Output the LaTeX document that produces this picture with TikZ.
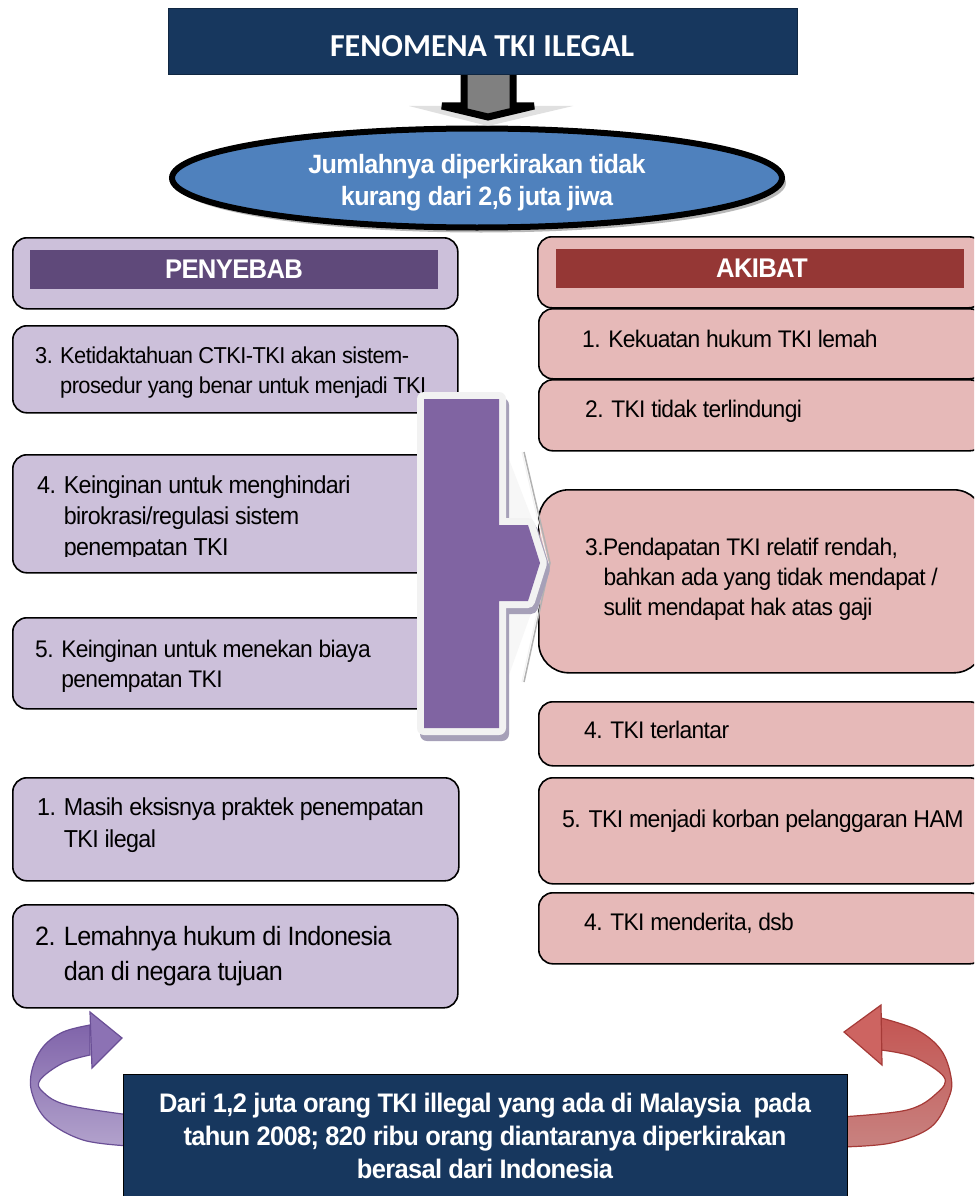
\documentclass[tikz,border=0pt]{standalone}
\usepackage{fontspec}
\setmainfont{Liberation Sans}
\newfontfamily\bodyfont[FakeStretch=0.95,LetterSpace=-2.5]{Liberation Sans}
\newfontfamily\titlefont{Carlito}
\usetikzlibrary{shapes.geometric,shadows}
\definecolor{navy}{HTML}{17375E}
\definecolor{eblue}{HTML}{4F81BD}
\definecolor{lpurple}{HTML}{CCC0DA}
\definecolor{dpurple}{HTML}{5F497A}
\definecolor{apurple}{HTML}{8064A2}
\definecolor{lpink}{HTML}{E6B9B8}
\definecolor{dred}{HTML}{953735}
\definecolor{arrowgray}{HTML}{808080}
\definecolor{bordergray}{HTML}{F2F2F2}
\newcommand\mlines[2]{\vtop{\baselineskip=#1\lineskiplimit=-100pt\relax #2}}
\newcommand\cl[1]{\hbox to 0pt{\hss#1\hss}}
\tikzset{
  boxbase/.style={draw=black, line width=1.6pt, anchor=north west, inner sep=0pt, rounded corners=14pt},
  lbox/.style={boxbase, fill=lpurple},
  rbox/.style={boxbase, fill=lpink},
  hbar/.style={anchor=north west, inner sep=0pt, minimum width=408pt, minimum height=39pt},
  txt/.style={anchor=base west, inner sep=0pt, text=black},
  ctxt/.style={anchor=base, inner sep=0pt, text=white},
  hdtext/.style={ctxt, font=\bodyfont\bfseries\fontsize{27}{30}\selectfont},
}
\begin{document}
\begin{tikzpicture}[x=1pt,y=-1pt]
\useasboundingbox (0,0) rectangle (974,1196);
\clip (0,0) rectangle (974,1196);
\fill[white] (0,0) rectangle (974,1196);

% ellipse
\node[ellipse, draw=black, line width=6pt, fill=eblue, minimum width=610pt, minimum height=99pt,
  drop shadow={shadow xshift=4pt, shadow yshift=-5pt, fill=black!55, opacity=0.5}] (ell) at (477,178) {};
\node[ctxt, font=\bodyfont\bfseries\fontsize{26.5}{32}\selectfont] (elltext) at (477,173)
  {\mlines{32pt}{\cl{Jumlahnya diperkirakan tidak}\cl{kurang dari 2,6 juta jiwa}}};

% down arrow
\fill[black!20, opacity=0.6] (409,106) -- (573,106) -- (488,126) -- cycle;
\draw[line width=7pt, miter limit=2, fill=arrowgray] (464,60) -- (513,60) -- (513,106) -- (534,106) -- (488,117) -- (442,106) -- (464,106) -- cycle;

% title
\node[draw=navy!70!black, fill=navy, line width=1pt, minimum width=629pt, minimum height=66pt, anchor=north west, inner sep=0pt] (title) at (168,8) {};
\node[ctxt, font=\titlefont\bfseries\fontsize{32}{38}\selectfont] (titletext) at (482,57) {FENOMENA TKI ILEGAL};

% headers
\node[lbox, minimum width=445pt, minimum height=71pt] (phead) at (12,237) {};
\node[hbar, fill=dpurple] (pbar) at (30,250) {};
\node[hdtext] (ptext) at (234,278) {PENYEBAB};
\node[rbox, minimum width=445pt, minimum height=71pt] (ahead) at (537,236) {};
\node[hbar, fill=dred] (abar) at (556,249) {};
\node[hdtext] (atext) at (762,277) {AKIBAT};

% left boxes
\node[lbox, minimum width=445pt, minimum height=87pt] (l3) at (12,325) {};
\node[txt, font=\bodyfont\fontsize{23}{30}\selectfont] (l3t) at (35,363)
  {\mlines{30pt}{\hbox{3. Ketidaktahuan CTKI-TKI akan sistem-}\hbox{\phantom{3. }prosedur yang benar untuk menjadi TKI}}};
\node[lbox, minimum width=445pt, minimum height=118pt] (l4) at (12,454) {};
\begin{scope}
\clip (0,440) rectangle (520,556.5);
\node[txt, font=\bodyfont\fontsize{24.5}{31}\selectfont] (l4t) at (37,493)
  {\mlines{31pt}{\hbox{4. Keinginan untuk menghindari}\hbox{\phantom{4. }birokrasi/regulasi sistem}\hbox{\phantom{4. }penempatan TKI}}};
\end{scope}
\node[lbox, minimum width=445pt, minimum height=91pt] (l5) at (12,617) {};
\node[txt, font=\bodyfont\fontsize{24}{30}\selectfont] (l5t) at (35,657)
  {\mlines{30pt}{\hbox{5. Keinginan untuk menekan biaya}\hbox{\phantom{5. }penempatan TKI}}};
\node[lbox, minimum width=446pt, minimum height=103pt] (l1) at (12,777) {};
\node[txt, font=\bodyfont\fontsize{24.5}{32}\selectfont] (l1t) at (37,815)
  {\mlines{32pt}{\hbox{1. Masih eksisnya praktek penempatan}\hbox{\phantom{1. }TKI ilegal}}};
\node[lbox, minimum width=445pt, minimum height=103pt] (l2) at (12,904) {};
\node[txt, font=\bodyfont\fontsize{26.5}{35}\selectfont] (l2t) at (35,945)
  {\mlines{35pt}{\hbox{2. Lemahnya hukum di Indonesia}\hbox{\phantom{2. }dan di negara tujuan}}};

% right boxes
\node[rbox, minimum width=445pt, minimum height=70pt] (r1) at (538,308) {};
\node[txt, font=\bodyfont\fontsize{24}{30}\selectfont] (r1t) at (582,347) {1. Kekuatan hukum TKI lemah};
\node[rbox, minimum width=445pt, minimum height=71pt] (r2) at (538,379) {};
\node[txt, font=\bodyfont\fontsize{24}{30}\selectfont] (r2t) at (585,417) {2. TKI tidak terlindungi};
\node[rbox, rounded corners=30pt, minimum width=445pt, minimum height=183pt] (r3) at (538,489) {};
\node[txt, font=\bodyfont\fontsize{24}{30}\selectfont] (r3t) at (585,555)
  {\mlines{30pt}{\hbox{3.Pendapatan TKI relatif rendah,}\hbox{\phantom{3.}bahkan ada yang tidak mendapat /}\hbox{\phantom{3.}sulit mendapat hak atas gaji}}};
\node[rbox, minimum width=445pt, minimum height=64pt] (r4) at (538,701) {};
\node[txt, font=\bodyfont\fontsize{24}{30}\selectfont] (r4t) at (584,738) {4. TKI terlantar};
\node[rbox, minimum width=445pt, minimum height=106pt] (r5) at (538,777) {};
\node[txt, font=\bodyfont\fontsize{24.3}{30}\selectfont] (r5t) at (562,827) {5. TKI menjadi korban pelanggaran HAM};
\node[rbox, minimum width=445pt, minimum height=71pt] (r6) at (538,892) {};
\node[txt, font=\bodyfont\fontsize{24}{30}\selectfont] (r6t) at (584,930) {4. TKI menderita, dsb};

% big purple arrow
\fill[white!97!black] (505,449) -- (549,563) -- (505,686) -- cycle;
\draw[black!30, line width=1.5pt] (524,452) -- (550,563) -- (524,682);
\draw[bordergray, line width=1pt] (522,452) -- (548,563) -- (522,682);
\begin{scope}[xshift=3pt, yshift=-6pt]
\draw[line width=14pt, line join=round, color={rgb,255:red,166;green,160;blue,184}]
  (424,399) -- (499,399) -- (499,525) -- (528,525) -- (540,563) -- (528,601) -- (499,601) -- (499,728) -- (424,728) -- cycle;
\end{scope}
\draw[line width=14pt, line join=round, bordergray]
  (424,399) -- (499,399) -- (499,525) -- (528,525) -- (540,563) -- (528,601) -- (499,601) -- (499,728) -- (424,728) -- cycle;
\fill[apurple]
  (424,399) -- (499,399) -- (499,525) -- (528,525) -- (540,563) -- (528,601) -- (499,601) -- (499,728) -- (424,728) -- cycle;

% left curved arrow
\draw[draw={rgb,255:red,106;green,79;blue,150}, line width=1.2pt, top color={rgb,255:red,128;green,100;blue,170}, bottom color={rgb,255:red,178;green,162;blue,204}]
  plot[smooth, tension=0.6] coordinates {(90,1025) (63,1032) (43,1047) (32,1070) (32,1093) (47,1120) (83,1140) (130,1146)}
  -- plot[smooth, tension=0.6] coordinates {(130,1115) (67,1105) (43,1092) (40,1080) (63,1063) (90,1055)} -- cycle;
\draw[draw={rgb,255:red,106;green,79;blue,150}, line width=1.2pt, fill={rgb,255:red,140;green,114;blue,180}]
  (90,1012) -- (122,1038) -- (92,1068) -- cycle;

% right curved arrow
\draw[draw={rgb,255:red,165;green,58;blue,55}, line width=1.2pt, top color={rgb,255:red,196;green,86;blue,83}, bottom color={rgb,255:red,200;green,130;blue,128}]
  plot[smooth, tension=0.6] coordinates {(881,1018) (917,1030) (941,1050) (951,1077) (949,1097) (931,1127) (891,1143) (840,1147)}
  -- plot[smooth, tension=0.6] coordinates {(840,1117) (907,1110) (937,1093) (944,1077) (914,1057) (881,1050)} -- cycle;
\draw[draw={rgb,255:red,165;green,58;blue,55}, line width=1.2pt, fill={rgb,255:red,205;green,100;blue,97}]
  (881,1005) -- (844,1032) -- (882,1065) -- cycle;

% bottom box
\node[draw=black, fill=navy, line width=1pt, minimum width=724pt, minimum height=130pt, anchor=north west, inner sep=0pt] (bot) at (123,1074) {};
\node[ctxt, font=\bodyfont\bfseries\fontsize{26.8}{33}\selectfont] (bottext) at (485,1112)
  {\mlines{33pt}{\cl{Dari 1,2 juta orang TKI illegal yang ada di Malaysia\ \ pada}\cl{tahun 2008; 820 ribu orang diantaranya diperkirakan}\cl{berasal dari Indonesia}}};
\end{tikzpicture}
\end{document}
